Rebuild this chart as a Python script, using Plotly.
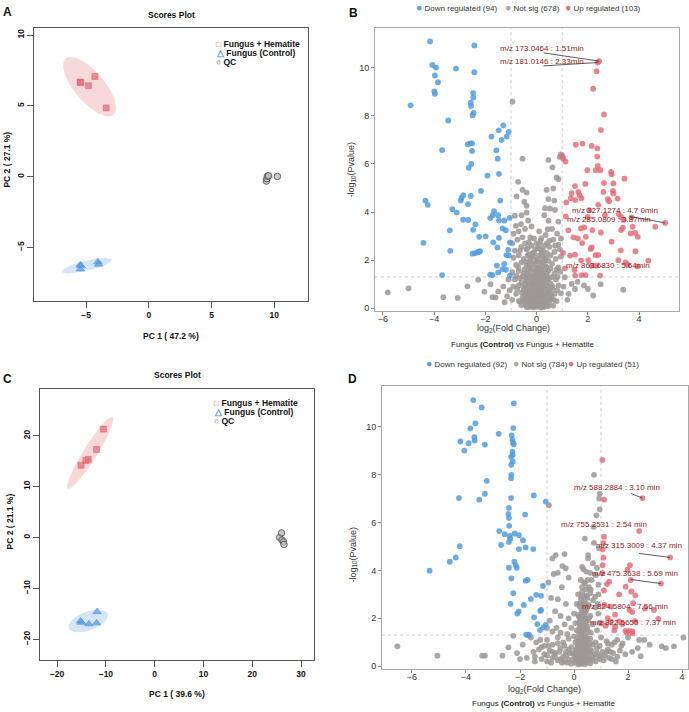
import numpy as np
import plotly.graph_objects as go

W, H = 689, 712
FONT = "Liberation Sans, Arial, Helvetica, sans-serif"

# ---------------- data: PCA scores ----------------
A_hem = [(-5.48, 6.68), (-5.44, 6.64), (-4.82, 6.42), (-4.3, 7.07), (-3.4, 4.85)]
A_ctrl = [(-5.48, -6.24), (-5.46, -6.54), (-5.4, -6.3), (-4.06, -6.03), (-4.0, -6.2)]
A_qc = [(9.38, -0.32), (9.42, -0.15), (9.46, 0.03), (9.55, 0.06), (10.26, 0.01)]
A_pc = ["PC 1 ( 47.2 %)", "PC 2 ( 27.1 %)"]

C_hem = [(-15.1, 14.2), (-14.1, 15.15), (-13.6, 15.35), (-11.9, 17.3), (-10.5, 21.3)]
C_ctrl = [(-15.2, -16.45), (-15.0, -16.7), (-13.5, -17.0), (-11.9, -16.8), (-11.8, -14.6)]
C_qc = [(25.6, 0.0), (26.0, 0.9), (26.1, -0.5), (26.4, -0.85), (26.5, -1.37)]
C_pc = ["PC 1 ( 39.6 %)", "PC 2 ( 21.1 %)"]

# confidence ellipses: centre, conjugate semi-axis vectors u, v
A_ell = {"hem": (-4.72, 6.35, 1.90, -1.99, 0.92, 0.68),
         "ctrl": (-4.96, -6.3, 1.96, 0.42, 0.08, -0.35),
         "qc": (9.5, -0.12, 0.45, 0.08, 0.03, -0.22)}
C_ell = {"hem": (-13.2, 16.65, 4.6, 7.06, 1.2, -0.73),
         "ctrl": (-13.6, -16.4, 4.0, 1.37, 0.6, -1.76),
         "qc": (26.1, -0.2, 0.5, -0.9, 0.35, 0.2)}

group_names = ["Fungus + Hematite", "Fungus (Control)", "QC"]

# ---------------- data: volcano B ----------------
B_counts = {"down": 94, "ns": 678, "up": 103}
B_down = [(-4.16, 11.1), (-2.43, 10.93), (-4.07, 10.12), (-3.93, 10.01), (-3.15, 9.97), (-2.43, 9.82),
          (-3.97, 9.68), (-3.85, 9.4), (-2.48, 8.95), (-3.99, 9.02), (-3.97, 8.92), (-2.47, 8.77),
          (-4.92, 8.44), (-2.57, 8.55), (-2.56, 8.41), (-2.46, 8.13), (-2.5, 8.02), (-3.45, 7.81),
          (-1.3, 7.61), (-1.48, 7.4), (-1.09, 7.33), (-1.76, 7.14), (-1.17, 7.14), (-1.37, 7.0),
          (-3.69, 6.58), (-2.6, 6.86), (-2.52, 6.86), (-2.69, 6.82), (-2.52, 6.54), (-1.57, 6.57),
          (-1.52, 6.22), (-2.55, 6.0), (-2.65, 5.84), (-1.47, 5.59), (-1.92, 5.52), (-2.17, 4.88),
          (-2.86, 4.7), (-2.93, 4.59), (-2.57, 4.67), (-2.96, 4.48), (-4.34, 4.48), (-4.25, 4.3),
          (-2.68, 4.33), (-1.42, 4.48), (-3.29, 4.12), (-3.12, 3.98), (-1.66, 4.04), (-1.5, 3.87),
          (-1.81, 3.75), (-1.71, 3.87), (-2.87, 3.68), (-2.67, 3.67), (-1.26, 3.65), (-1.47, 3.65),
          (-1.05, 3.76), (-2.39, 3.49), (-3.39, 3.24), (-2.48, 3.26), (-1.33, 3.32), (-1.2, 3.24),
          (-1.99, 2.99), (-2.24, 2.97), (-1.47, 2.93), (-4.42, 2.72), (-1.69, 2.74), (-1.04, 2.74),
          (-1.53, 2.53), (-3.37, 2.39), (-2.26, 2.35), (-2.31, 2.32), (-2.41, 2.28), (-2.5, 2.27),
          (-2.21, 2.37), (-1.11, 2.43), (-1.18, 2.21), (-1.08, 2.19), (-3.69, 1.38), (-1.55, 1.77),
          (-1.26, 1.84), (-1.33, 1.63), (-1.5, 1.49), (-1.81, 1.4), (-1.72, 1.38), (-1.04, 1.36),
          (-1.2, 1.6)]
B_up = [(2.44, 10.28), (2.38, 10.22), (2.34, 9.86), (2.21, 9.13), (2.63, 8.06), (2.51, 7.41),
        (1.53, 6.8), (1.79, 6.85), (2.15, 6.75), (2.37, 6.65), (2.37, 6.31), (1.01, 6.33),
        (1.04, 6.22), (1.13, 6.1), (2.39, 5.92), (1.98, 5.74), (2.31, 5.74), (2.49, 5.74),
        (2.91, 5.67), (2.93, 5.57), (3.43, 5.39), (2.63, 5.21), (3.0, 5.19), (1.9, 5.17),
        (1.5, 5.08), (2.98, 4.88), (1.37, 4.79), (1.63, 4.84), (1.68, 4.7), (1.75, 4.58),
        (2.61, 4.84), (3.0, 4.77), (2.78, 4.54), (2.83, 4.45), (3.16, 4.56), (1.34, 4.58),
        (1.51, 4.5), (1.16, 4.4), (2.41, 4.3), (2.05, 4.08), (3.21, 3.91), (1.14, 3.82),
        (2.0, 3.8), (2.67, 3.87), (3.3, 3.8), (3.39, 3.68), (3.71, 3.78), (5.02, 3.55),
        (4.63, 3.39), (3.75, 3.39), (3.37, 3.35), (3.3, 3.25), (3.67, 3.11), (3.85, 3.13),
        (3.95, 2.97), (1.24, 3.24), (1.73, 3.32), (1.86, 3.36), (2.18, 3.25), (2.51, 3.15),
        (1.61, 2.9), (1.92, 2.97), (1.44, 2.95), (1.78, 2.71), (2.15, 2.53), (2.11, 2.46),
        (2.93, 2.77), (3.29, 2.41), (3.86, 2.37), (1.03, 2.3), (1.31, 2.19), (1.5, 2.23),
        (2.3, 2.21), (2.41, 2.21), (1.74, 1.99), (2.02, 2.0), (3.19, 2.0), (3.48, 1.91),
        (3.56, 1.8), (4.36, 1.98), (3.94, 1.74), (1.11, 1.66), (1.48, 1.59), (2.33, 1.77),
        (2.15, 1.77), (1.76, 1.38), (1.91, 1.38), (2.48, 1.36), (1.51, 1.36)]
B_ns = [(-0.94, 8.59), (-0.55, 6.22), (0.46, 6.17), (0.62, 5.86), (0.78, 5.44), (0.85, 5.37),
        (-0.72, 5.26), (-0.55, 4.92), (0.39, 4.92), (0.65, 4.98), (-0.39, 4.81), (-0.78, 4.65),
        (0.46, 4.54), (0.69, 4.48), (-0.48, 4.43), (-0.39, 4.26), (0.33, 4.16), (0.52, 4.15),
        (0.72, 4.09), (-0.39, 3.98), (-0.85, 3.85), (-0.59, 3.87), (0.3, 3.87), (-0.33, 3.65),
        (-0.61, 3.5), (-0.81, 3.43), (0.46, 3.64), (0.43, 3.29), (0.85, 3.6), (0.95, 6.4), (0.9, 6.3),
        (-0.9, 3.1), (-0.7, 3.2), (-0.45, 3.3), (-0.2, 3.4), (0.1, 3.2), (0.35, 3.05), (0.6, 3.3),
        (0.8, 3.1), (0.95, 2.9), (-0.95, 2.7), (-0.75, 2.85), (-0.55, 2.95), (-0.3, 2.75),
        (-0.1, 2.9), (0.15, 2.8), (0.4, 2.7), (0.65, 2.85), (0.85, 2.65), (-0.85, 2.4), (-0.6, 2.55),
        (-0.4, 2.45), (-0.2, 2.6), (0.05, 2.5), (0.25, 2.4), (0.5, 2.55), (0.7, 2.35), (0.9, 2.45),
        (-0.9, 2.1), (-0.7, 2.2), (-0.5, 2.05), (-0.3, 2.25), (-0.1, 2.15), (0.1, 2.2), (0.3, 2.05),
        (0.55, 2.2), (0.75, 2.05), (0.95, 2.15), (-0.8, 1.8), (-0.6, 1.9), (-0.4, 1.75), (-0.25, 1.95),
        (-0.05, 1.8), (0.15, 1.9), (0.35, 1.75), (0.6, 1.85), (0.85, 1.7), (-0.95, 1.5), (-0.7, 1.55),
        (-0.5, 1.45), (-0.3, 1.6), (-0.12, 1.5), (0.05, 1.62), (0.22, 1.45), (0.45, 1.55), (0.7, 1.45),
        (0.92, 1.52), (-0.85, 1.2), (-0.65, 1.25), (-0.42, 1.15), (-0.22, 1.3), (-0.05, 1.2),
        (0.12, 1.3), (0.3, 1.15), (0.5, 1.25), (0.75, 1.2), (-0.9, 0.9), (-0.7, 0.95), (-0.5, 0.85),
        (-0.33, 1.0), (-0.15, 0.9), (0.02, 1.0), (0.2, 0.88), (0.4, 0.95), (0.62, 0.9), (0.85, 0.95),
        (-0.8, 0.6), (-0.58, 0.65), (-0.4, 0.55), (-0.25, 0.7), (-0.1, 0.6), (0.08, 0.68), (0.25, 0.58),
        (0.45, 0.65), (0.7, 0.6), (0.95, 0.62), (-0.95, 0.35), (-0.7, 0.3), (-0.48, 0.38), (-0.3, 0.28),
        (-0.15, 0.4), (0.0, 0.3), (0.15, 0.38), (0.32, 0.27), (0.52, 0.36), (0.78, 0.3), (-0.6, 0.12),
        (-0.35, 0.1), (-0.18, 0.15), (-0.05, 0.08), (0.1, 0.12), (0.25, 0.05), (0.42, 0.14), (0.65, 0.1),
        (-0.2, 0.45), (0.05, 0.5), (0.2, 0.75), (-0.05, 0.3), (0.12, 0.2), (-0.12, 1.05), (0.0, 1.4),
        (0.18, 1.1), (-0.3, 1.4), (0.28, 1.35), (-0.08, 0.75), (0.32, 0.45), (-0.38, 0.82), (0.08, 0.88),
        (-0.02, 2.0), (0.2, 2.3), (-0.15, 2.3), (0.1, 2.65), (1.1, 1.29), (1.37, 1.01), (1.5, 0.8),
        (1.25, 0.6), (1.6, 1.1), (1.85, 0.95), (1.2, 0.35), (1.05, 0.9), (-1.1, 1.2), (-1.3, 0.9),
        (-1.5, 0.7), (-1.15, 0.5), (-1.8, 1.0), (-1.25, 0.25), (-1.6, 0.45), (-1.05, 0.75),
        (-5.81, 0.66), (-5.0, 0.83), (-3.64, 0.46), (-3.08, 0.43), (-2.7, 0.91), (-2.28, 1.18),
        (-2.04, 0.69), (-1.72, 0.46), (3.38, 0.77), (2.21, 0.53), (2.5, 1.0), (2.0, 0.8)]
B_ns_core = [(-0.28, 0.05), (-0.12, 0.04), (0.03, 0.06), (0.18, 0.03), (0.33, 0.07), (-0.45, 0.2),
             (-0.32, 0.22), (-0.22, 0.18), (-0.08, 0.2), (0.06, 0.22), (0.2, 0.19), (0.36, 0.21),
             (0.5, 0.24), (-0.55, 0.45), (-0.42, 0.5), (-0.3, 0.42), (-0.1, 0.48), (0.0, 0.55),
             (0.14, 0.46), (0.26, 0.52), (0.4, 0.44), (0.58, 0.5), (-0.5, 0.72), (-0.35, 0.68),
             (-0.18, 0.78), (-0.02, 0.7), (0.12, 0.62), (0.3, 0.78), (0.48, 0.74), (0.6, 0.8),
             (-0.6, 1.05), (-0.45, 0.98), (-0.28, 1.1), (-0.2, 1.0), (0.08, 1.08), (0.25, 1.02),
             (0.38, 1.1), (0.55, 1.02), (-0.55, 1.32), (-0.38, 1.28), (-0.15, 1.35), (-0.02, 1.28),
             (0.15, 1.4), (0.38, 1.32), (0.6, 1.3), (-0.48, 1.6), (-0.2, 1.65), (-0.05, 1.55),
             (0.12, 1.7), (0.3, 1.6), (0.55, 1.65), (-0.42, 1.92), (-0.15, 1.85), (0.02, 1.95),
             (0.25, 1.9), (0.45, 1.98), (-0.35, 2.2), (-0.2, 2.15), (0.25, 2.18), (0.4, 2.3),
             (-0.05, 2.45), (0.3, 2.6), (-0.45, 2.7), (0.18, 2.9), (-0.25, 2.95), (0.5, 2.8),
             (-0.65, 0.3), (0.68, 0.35), (-0.75, 0.8), (0.8, 0.75), (-0.8, 1.35), (0.82, 1.3),
             (-0.72, 1.7), (0.78, 1.6), (-0.65, 2.4), (0.72, 2.6), (-0.38, 0.05), (0.08, 0.35),
             (-0.15, 0.62), (0.22, 0.95), (-0.08, 1.18), (0.1, 1.52), (-0.32, 1.78), (0.35, 2.0),
             (-0.4, 0.1), (-0.25, 0.12), (-0.15, 0.1), (0.0, 0.15), (0.15, 0.14), (0.3, 0.16),
             (0.45, 0.08), (-0.48, 0.32), (-0.35, 0.35), (-0.2, 0.3), (-0.05, 0.38), (0.1, 0.32),
             (0.22, 0.35), (0.4, 0.3), (0.55, 0.4), (-0.45, 0.6), (-0.28, 0.58), (-0.12, 0.55),
             (0.04, 0.6), (0.18, 0.6), (0.35, 0.62), (0.52, 0.6), (-0.42, 0.85), (-0.25, 0.88),
             (-0.08, 0.92), (0.1, 0.8), (0.28, 0.9), (0.45, 0.88), (-0.38, 1.2), (-0.15, 1.15),
             (0.05, 1.15), (0.2, 1.25), (0.42, 1.2), (-0.35, 1.45), (-0.02, 1.42), (0.18, 1.55),
             (0.4, 1.45), (-0.28, 1.7), (0.02, 1.7), (0.22, 1.75), (0.4, 1.7), (-0.25, 2.05),
             (0.1, 2.05), (0.35, 2.1), (-0.1, 2.3), (0.15, 2.45), (0.0, 2.7), (-0.35, 2.5)]
# labels: text, label centre (x, y), leader start (x, y) or None, labelled point (x, y)
B_labels = [("m/z 173.0464 : 1.51min", 0.23, 10.79, (0.27, 10.62), (2.44, 10.28)),
            ("m/z 181.0146 : 2.33min", 0.23, 10.25, (0.27, 10.08), (2.38, 10.22)),
            ("m/z 327.1274 : 4.7 0min", 3.05, 4.07, (3.63, 3.82), (5.02, 3.55)),
            ("m/z 285.0809 : 3.87min", 2.81, 3.69, None, None),
            ("m/z 863.6830 : 5.64min", 2.77, 1.78, None, None)]

# ---------------- data: volcano D ----------------
D_counts = {"down": 92, "ns": 784, "up": 51}
D_down = [(-3.73, 11.11), (-2.23, 10.97), (-3.42, 10.8), (-3.65, 10.14), (-3.84, 9.93), (-2.25, 9.94),
          (-2.79, 9.7), (-3.69, 9.56), (-3.68, 9.42), (-4.21, 9.38), (-3.9, 9.31), (-3.3, 9.25),
          (-4.06, 9.0), (-2.31, 9.63), (-2.28, 9.45), (-2.26, 9.32), (-2.23, 9.27), (-2.28, 8.96),
          (-2.27, 8.82), (-2.33, 8.74), (-2.27, 8.55), (-2.33, 8.41), (-2.32, 7.99), (-2.33, 7.85),
          (-3.23, 7.74), (-4.26, 7.02), (-3.3, 7.2), (-3.51, 6.95), (-2.33, 7.02), (-1.49, 7.13),
          (-1.05, 6.87), (-2.41, 6.61), (-2.43, 6.36), (-2.41, 6.19), (-1.81, 6.33), (-2.4, 5.86),
          (-2.77, 5.64), (-2.57, 5.51), (-2.38, 5.44), (-2.2, 5.54), (-2.04, 5.47), (-2.36, 5.33),
          (-2.7, 5.06), (-2.41, 5.19), (-1.89, 5.26), (-1.79, 4.96), (-2.04, 4.89), (-1.51, 4.89),
          (-4.23, 5.01), (-4.38, 4.54), (-4.6, 4.36), (-5.35, 3.99), (-2.21, 4.36), (-2.16, 4.22),
          (-2.12, 4.11), (-2.41, 4.11), (-2.32, 3.67), (-1.79, 3.57), (-1.72, 3.6), (-1.15, 3.35),
          (-2.25, 3.05), (-1.4, 2.98), (-1.22, 2.94), (-1.6, 2.81), (-2.35, 2.6), (-1.86, 2.56),
          (-2.05, 2.29), (-2.1, 2.2), (-1.25, 2.31), (-1.22, 2.35), (-1.48, 2.04), (-1.36, 1.76),
          (-1.05, 1.73), (-1.14, 1.62), (-1.26, 1.51), (-1.77, 1.32), (-1.67, 1.32), (-1.7, 1.29)]
D_up = [(1.05, 8.61), (1.11, 6.95), (2.53, 7.02), (2.41, 5.64), (1.11, 5.4), (1.09, 5.14),
        (1.06, 4.88), (1.09, 4.53), (3.56, 4.54), (2.07, 4.22), (1.98, 4.03), (1.06, 4.22),
        (1.05, 3.88), (1.3, 3.53), (1.22, 3.43), (2.1, 3.6), (1.91, 3.32), (3.22, 3.45),
        (1.11, 3.16), (2.12, 3.12), (2.27, 2.96), (1.67, 3.0), (2.19, 2.63), (1.12, 2.56),
        (1.36, 2.49), (1.52, 2.15), (2.05, 2.35), (2.16, 2.26), (2.96, 2.35), (2.63, 2.41),
        (1.25, 2.01), (1.36, 1.87), (1.02, 1.8), (1.67, 1.87), (2.26, 1.88), (3.12, 1.98),
        (1.8, 1.76), (1.49, 1.5), (1.91, 1.48), (2.04, 1.48), (2.16, 1.45), (1.95, 1.4),
        (1.17, 1.69), (2.16, 1.37), (1.52, 1.65)]
D_ns = [(-0.93, 6.72), (0.74, 7.99), (0.95, 7.2), (0.93, 7.0), (0.95, 6.55), (0.83, 6.3), (0.73, 5.82),
        (0.4, 5.33), (0.74, 5.15), (0.93, 4.92), (0.52, 4.64), (0.52, 4.5), (-0.68, 4.64), (-0.35, 4.68),
        (-0.8, 4.5), (-0.43, 4.18), (-0.31, 4.09), (0.3, 4.15), (0.35, 4.05), (0.45, 3.95), (-0.6, 3.9),
        (-0.75, 3.85), (0.6, 3.9), (-0.2, 3.7), (0.25, 3.6), (0.8, 3.8), (-0.95, 3.5), (0.4, 3.45),
        (0.55, 3.3), (-0.45, 3.3), (0.9, 3.4), (0.15, 3.0), (0.3, 3.1), (0.45, 2.95), (0.6, 3.05),
        (0.25, 2.8), (0.38, 2.7), (0.5, 2.85), (0.7, 2.75), (0.1, 2.6), (0.2, 2.5), (0.35, 2.4),
        (0.55, 2.55), (0.8, 2.45), (-0.3, 2.6), (-0.6, 2.8), (-0.85, 2.85), (-0.7, 2.3), (0.0, 2.2),
        (0.15, 2.15), (0.3, 2.05), (0.42, 2.25), (0.6, 2.1), (0.9, 2.2), (-0.2, 2.0), (-0.5, 2.1),
        (-0.9, 1.9), (0.05, 1.8), (0.2, 1.85), (0.35, 1.7), (0.5, 1.9), (0.7, 1.75), (0.95, 1.8),
        (-0.1, 1.6), (-0.35, 1.75), (-0.65, 1.6), (0.1, 1.5), (0.28, 1.45), (0.45, 1.55), (0.62, 1.4),
        (0.85, 1.5), (-0.25, 1.35), (-0.5, 1.4), (-0.8, 1.45), (-1.0, 1.6), (-1.6, 1.2), (-1.4, 1.0),
        (-1.2, 0.8), (-1.0, 1.1), (-0.8, 0.9), (-0.6, 1.2), (-0.4, 1.0), (-0.2, 1.15), (0.0, 1.25),
        (0.15, 1.05), (0.3, 1.2), (0.45, 1.0), (0.6, 1.15), (0.8, 1.0), (1.0, 1.2), (1.2, 1.05),
        (1.4, 0.9), (1.6, 1.1), (1.8, 0.95), (2.0, 1.2), (-1.5, 0.6), (-1.3, 0.7), (-1.1, 0.5),
        (-0.9, 0.65), (-0.7, 0.55), (-0.5, 0.75), (-0.3, 0.6), (-0.1, 0.8), (0.05, 0.65), (0.2, 0.85),
        (0.35, 0.7), (0.5, 0.85), (0.65, 0.65), (0.85, 0.75), (1.05, 0.6), (1.25, 0.7), (1.45, 0.55),
        (1.7, 0.65), (1.9, 0.5), (2.15, 0.6), (-1.2, 0.3), (-1.0, 0.2), (-0.8, 0.35), (-0.6, 0.25),
        (-0.4, 0.4), (-0.2, 0.3), (0.0, 0.45), (0.1, 0.25), (0.25, 0.4), (0.4, 0.3), (0.55, 0.45),
        (0.7, 0.3), (0.9, 0.4), (1.1, 0.25), (1.3, 0.35), (1.55, 0.2), (0.3, 0.12), (0.15, 0.08),
        (-0.1, 0.1), (0.5, 0.15), (0.2, 1.6), (0.3, 1.3), (0.4, 1.75), (0.25, 2.0), (0.35, 2.3),
        (0.45, 2.6), (0.32, 0.95), (0.18, 0.55), (0.42, 0.5), (0.05, 1.0), (-6.54, 0.83), (-5.06, 0.44),
        (-3.4, 0.44), (-3.3, 0.44), (-2.65, 0.44), (-2.43, 0.79), (-2.25, 1.27), (-2.11, 0.55),
        (-1.75, 0.35), (4.05, 1.2), (3.7, 0.83), (3.25, 0.83), (2.41, 1.1), (2.36, 0.76), (2.47, 0.42),
        (3.4, 0.76), (2.8, 0.9), (2.6, 1.1), (-1.9, 0.9), (-2.0, 0.3), (-1.45, 0.2)]
D_ns_core = [(0.22, 0.2), (0.38, 0.22), (0.28, 0.35), (0.45, 0.38), (0.12, 0.42), (0.33, 0.55),
             (0.5, 0.6), (0.22, 0.7), (0.4, 0.8), (0.15, 0.9), (0.3, 1.05), (0.5, 1.1), (0.25, 1.2),
             (0.42, 1.3), (0.18, 1.35), (0.35, 1.5), (0.52, 1.45), (0.25, 1.7), (0.45, 1.9), (0.3, 1.95),
             (0.38, 2.15), (0.28, 2.35), (0.48, 2.45), (0.4, 2.9), (0.3, 3.3), (0.5, 3.6), (0.62, 3.2),
             (0.22, 2.6), (-1.0, 0.45), (-0.85, 0.15), (-0.7, 0.4), (-0.55, 0.6), (-0.45, 0.15),
             (-0.3, 0.45), (-0.15, 0.55), (-0.05, 0.25), (0.05, 0.35), (0.6, 0.25), (0.75, 0.5),
             (0.95, 0.3), (1.15, 0.45), (1.35, 0.6), (1.6, 0.4), (1.75, 0.85), (1.5, 1.0), (0.95, 0.85),
             (0.7, 0.9), (-0.35, 0.85), (-0.6, 0.95), (-1.25, 1.1), (-1.45, 0.4), (-0.95, 0.85),
             (0.1, 0.7), (0.6, 0.6), (-0.2, 0.7), (1.25, 0.95), (0.7, 4.3), (0.85, 4.1), (0.65, 3.6),
             (0.9, 3.0), (0.78, 2.9), (0.88, 2.6), (0.35, 0.3), (0.2, 0.45), (0.46, 0.7), (0.3, 0.85),
             (0.12, 1.15), (0.38, 1.65), (0.55, 2.0), (0.18, 2.05), (0.25, 0.1), (0.4, 0.08),
             (0.6, 0.12), (0.05, 0.15), (-0.25, 0.15), (0.15, 0.3), (0.32, 0.4), (0.5, 0.3), (0.68, 0.4),
             (0.85, 0.55), (-0.05, 0.55), (0.25, 0.55), (0.4, 0.65), (0.55, 0.75), (0.12, 0.8),
             (0.28, 0.75), (0.45, 0.95), (0.2, 1.0), (0.38, 1.1), (0.6, 0.95), (0.25, 1.4), (0.45, 1.2),
             (0.32, 1.6), (0.5, 1.65), (0.2, 1.8), (0.4, 2.0), (0.3, 2.2), (0.45, 2.35), (0.35, 2.6),
             (0.28, 2.9), (0.45, 3.2), (0.38, 3.5), (-0.5, 0.3), (-0.8, 0.6), (-1.1, 0.85), (1.0, 0.45),
             (1.2, 0.6), (1.4, 0.3), (0.8, 0.2), (-0.35, 0.2)]
D_labels = [("m/z 588.2884 : 3.10 min", 1.59, 7.46, (2.11, 7.21), (2.53, 7.02)),
            ("m/z 755.2531 : 2.54 min", 1.11, 5.92, None, None),
            ("m/z 315.3009 : 4.37 min", 2.41, 5.04, (2.41, 4.71), (3.56, 4.54)),
            ("m/z 475.3638 : 5.69 min", 2.26, 3.88, (2.11, 3.62), (3.22, 3.45)),
            ("m/z 824.5804 : 7.56 min", 1.89, 2.5, None, None),
            ("m/z 822.5655 : 7.37 min", 2.19, 1.83, None, None)]

FC_THR = 1.0
P_THR = 0.05
comparison = "Fungus <b>(Control)</b> vs Fungus + Hematite"

# ---------------- styling ----------------
RED_PT = "rgba(226,104,116,0.80)"
BLUE_PT = "rgba(84,156,222,0.85)"
GREY_PT = "rgba(158,152,152,0.85)"
LBL_RED = "#8e1b1b"

fig = go.Figure()
t = np.linspace(0, 2 * np.pi, 120)


def ellipse(p):
    cx, cy, ux, uy, vx, vy = p
    return cx + ux * np.cos(t) + vx * np.sin(t), cy + uy * np.cos(t) + vy * np.sin(t)


def xs(pts):
    return [p[0] for p in pts]


def ys(pts):
    return [p[1] for p in pts]


def add_pca(xa, ya, hem, ctrl, qc, ell):
    fills = {"hem": "rgba(240,170,172,0.45)", "ctrl": "rgba(170,205,240,0.5)", "qc": "rgba(190,190,190,0.45)"}
    for k in ["hem", "ctrl", "qc"]:
        ex, ey = ellipse(ell[k])
        fig.add_trace(go.Scatter(x=ex, y=ey, mode="lines", fill="toself", fillcolor=fills[k],
                                 line=dict(width=0), hoverinfo="skip", showlegend=False,
                                 xaxis=xa, yaxis=ya))
    fig.add_trace(go.Scatter(x=xs(hem), y=ys(hem), mode="markers", name=group_names[0],
                             marker=dict(symbol="square", size=6, color="rgba(228,112,124,0.75)",
                                         line=dict(width=0.6, color="rgba(215,90,100,0.8)")),
                             showlegend=False, xaxis=xa, yaxis=ya))
    fig.add_trace(go.Scatter(x=xs(ctrl), y=ys(ctrl), mode="markers", name=group_names[1],
                             marker=dict(symbol="triangle-up", size=7.5, color="rgba(88,156,222,0.75)",
                                         line=dict(width=0.6, color="rgba(70,140,210,0.8)")),
                             showlegend=False, xaxis=xa, yaxis=ya))
    fig.add_trace(go.Scatter(x=xs(qc), y=ys(qc), mode="markers", name=group_names[2],
                             marker=dict(symbol="circle", size=6.5, color="rgba(190,190,190,0.8)",
                                         line=dict(width=1, color="rgba(70,70,70,0.8)")),
                             showlegend=False, xaxis=xa, yaxis=ya))


def add_volcano(xa, ya, ns, down, up, labels):
    for pts, col, nm in [(ns, GREY_PT, "Not sig"), (down, BLUE_PT, "Down regulated"), (up, RED_PT, "Up regulated")]:
        fig.add_trace(go.Scatter(x=xs(pts), y=ys(pts), mode="markers", name=nm,
                                 marker=dict(size=5.8, color=col, line=dict(width=0)),
                                 showlegend=False, xaxis=xa, yaxis=ya))
    for txt, tx, ty, start, pt in labels:
        if start is not None:
            fig.add_trace(go.Scatter(x=[start[0], pt[0]], y=[start[1], pt[1]], mode="lines",
                                     line=dict(color="#333333", width=0.8), hoverinfo="skip",
                                     showlegend=False, xaxis=xa, yaxis=ya))
        fig.add_annotation(text=txt, x=tx, y=ty, xref=xa, yref=ya, showarrow=False,
                           font=dict(family=FONT, size=8, color=LBL_RED))


add_pca("x", "y", A_hem, A_ctrl, A_qc, A_ell)
add_pca("x3", "y3", C_hem, C_ctrl, C_qc, C_ell)
add_volcano("x2", "y2", B_ns + B_ns_core, B_down, B_up, B_labels)
add_volcano("x4", "y4", D_ns + D_ns_core, D_down, D_up, D_labels)


def dom_x(a, b):
    return [a / W, b / W]


def dom_y(top, bot):
    return [1 - bot / H, 1 - top / H]


pca_ax = dict(showline=True, mirror=True, linecolor="#555555", linewidth=1, ticks="outside",
              ticklen=6, tickcolor="#555555", showgrid=False, zeroline=False,
              tickfont=dict(family=FONT, size=8.5, color="#111", weight="bold"))
vol_ax = dict(showline=True, mirror=True, linecolor="#a8a8a8", linewidth=1, ticks="outside",
              ticklen=3, tickcolor="#888888", showgrid=False, zeroline=False,
              tickfont=dict(family=FONT, size=9, color="#333"))

fig.update_layout(
    width=W, height=H, margin=dict(l=0, r=0, t=0, b=0), paper_bgcolor="white", plot_bgcolor="white",
    xaxis=dict(domain=dom_x(34, 308), range=[-9.16, 12.7], tickvals=[-5, 0, 5, 10], anchor="y", **pca_ax),
    yaxis=dict(domain=dom_y(28, 302), range=[-8.8, 10.5], tickvals=[-5, 0, 5, 10], tickangle=-90, anchor="x", **pca_ax),
    xaxis3=dict(domain=dom_x(40, 314), range=[-23.5, 32.65], tickvals=[-20, -10, 0, 10, 20, 30], anchor="y3", **pca_ax),
    yaxis3=dict(domain=dom_y(390, 662), range=[-24.1, 29.2], tickvals=[-20, -10, 0, 10, 20], tickangle=-90, anchor="x3", **pca_ax),
    xaxis2=dict(domain=dom_x(375, 679), range=[-6.31, 5.56], tickvals=[-6, -4, -2, 0, 2, 4], anchor="y2",
                ticklabelstandoff=-4, **vol_ax),
    yaxis2=dict(domain=dom_y(28, 312), range=[-0.12, 11.66], tickvals=[0, 2, 4, 6, 8, 10], anchor="x2", **vol_ax),
    xaxis4=dict(domain=dom_x(382, 688), range=[-7.11, 4.22], tickvals=[-6, -4, -2, 0, 2, 4], anchor="y4",
                ticklabelstandoff=-4, **vol_ax),
    yaxis4=dict(domain=dom_y(387, 671), range=[-0.12, 11.7], tickvals=[0, 2, 4, 6, 8, 10], anchor="x4", **vol_ax),
)

# threshold lines
thr_y = -np.log10(P_THR)
for xa, ya in [("x2", "y2"), ("x4", "y4")]:
    for xv in (-FC_THR, FC_THR):
        fig.add_shape(type="line", xref=xa, yref=ya + " domain", x0=xv, x1=xv, y0=0, y1=1,
                      line=dict(color="#cfcfcf", width=1, dash="dot"), layer="below")
    fig.add_shape(type="line", xref=xa + " domain", yref=ya, x0=0, x1=1, y0=thr_y, y1=thr_y,
                  line=dict(color="#cfcfcf", width=1, dash="dot"), layer="below")


def pann(text, xp, yp, size=8.5, bold=False, color="#111", xanchor="center", angle=0):
    fig.add_annotation(text=text, x=xp / W, y=1 - yp / H, xref="paper", yref="paper", showarrow=False,
                       xanchor=xanchor, yanchor="middle", textangle=angle,
                       font=dict(family=FONT, size=size, color=color, weight="bold" if bold else "normal"))


# panel letters
pann("A", 7, 12, size=12, bold=True)
pann("B", 353, 13, size=12, bold=True)
pann("C", 7, 380, size=12, bold=True)
pann("D", 352, 380, size=12, bold=True)

# PCA titles, axis titles, legends
pann("Scores Plot", 171, 15, bold=True)
pann("Scores Plot", 177, 376, bold=True)
pann(A_pc[0], 171, 337, bold=True)
pann(A_pc[1], 7, 160, bold=True, angle=-90)
pann(C_pc[0], 177, 696, bold=True)
pann(C_pc[1], 10, 523, bold=True, angle=-90)

leg_sym = [("□", "#e06a78"), ("△", "#4f98dc"), ("○", "#666666")]
for (lx, ly0) in [(214, 43.7), (212, 404)]:
    for i, (sym, col) in enumerate(leg_sym):
        pann('<span style="color:%s">%s</span> %s' % (col, sym, group_names[i]), lx, ly0 + i * 9,
             size=8.5, bold=True, xanchor="left")


# volcano legends / titles
def vol_legend(y, xs_, counts):
    items = [("Down regulated", counts["down"], "#5aa0dc"), ("Not sig", counts["ns"], "#aaa4a4"),
             ("Up regulated", counts["up"], "#e0707c")]
    for xp, (nm, n, col) in zip(xs_, items):
        pann('<span style="color:%s;font-size:10.5px">●</span> %s (%d)' % (col, nm, n), xp, y,
             size=8, color="#333", xanchor="left")


vol_legend(7, [414, 503, 563], B_counts)
vol_legend(364, [424, 511, 566], D_counts)

pann("log<sub>2</sub>(Fold Change)", 513, 329, size=9, color="#333")
pann("-log<sub>10</sub>(Pvalue)", 352, 170, size=9, color="#333", angle=-90)
pann(comparison, 522, 345, size=8, color="#222")
pann("log<sub>2</sub>(Fold Change)", 544, 691, size=9, color="#333")
pann("-log<sub>10</sub>(Pvalue)", 353, 556, size=9, color="#333", angle=-90)
pann(comparison, 543, 705, size=8, color="#222")

fig.write_html("out.html")
